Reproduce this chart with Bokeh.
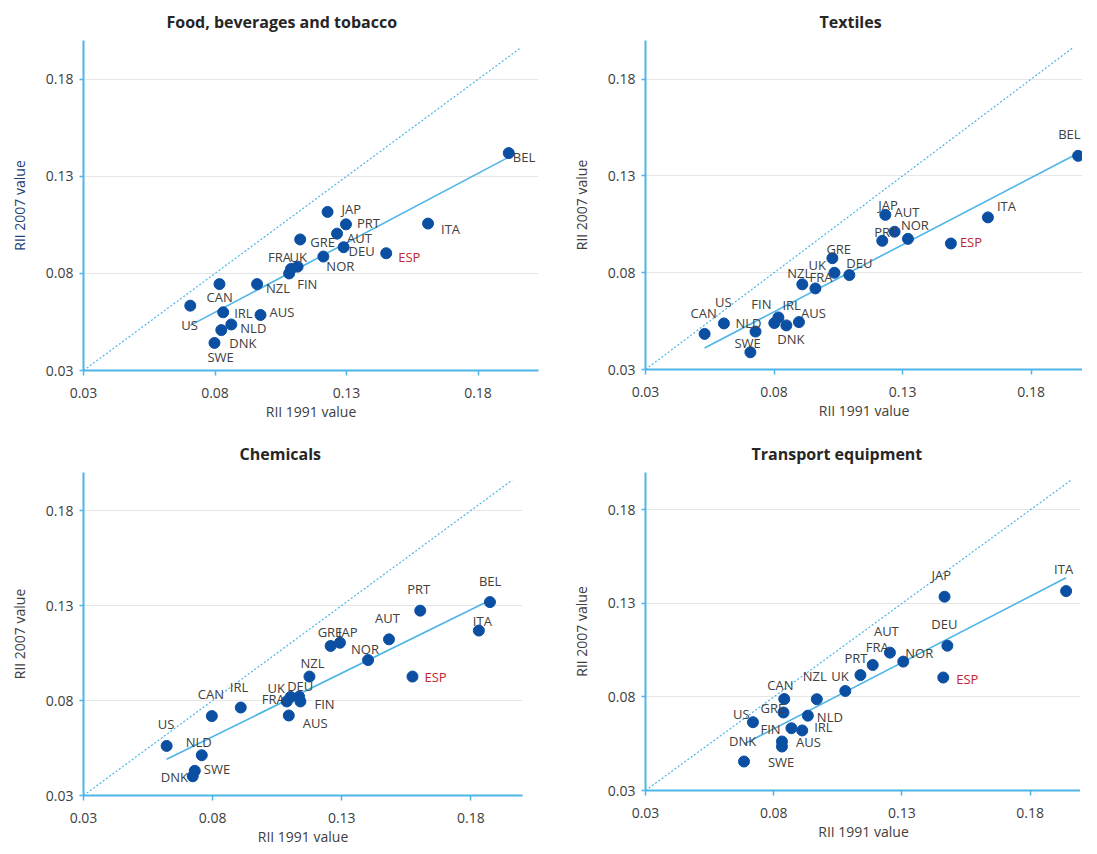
import numpy as np
from bokeh.plotting import figure
from bokeh.layouts import gridplot
from bokeh.models import FixedTicker, PrintfTickFormatter, ColumnDataSource
from bokeh.core.properties import value
from bokeh.embed import file_html
from bokeh.resources import INLINE

# ---------------- data ----------------
countries = ["AUS", "AUT", "BEL", "CAN", "DEU", "DNK", "ESP", "FIN", "FRA", "GRE",
             "IRL", "ITA", "JAP", "NLD", "NOR", "NZL", "PRT", "SWE", "UK", "US"]

food_x = [0.0973, 0.1264, 0.1917, 0.0817, 0.1289, 0.0824, 0.1451, 0.1082, 0.1089, 0.1124,
          0.0831, 0.1610, 0.1228, 0.0862, 0.1212, 0.0960, 0.1298, 0.0798, 0.1114, 0.0706]
food_y = [0.0586, 0.1005, 0.1420, 0.0745, 0.0935, 0.0508, 0.0904, 0.0800, 0.0823, 0.0975,
          0.0600, 0.1057, 0.1117, 0.0537, 0.0887, 0.0745, 0.1053, 0.0442, 0.0835, 0.0634]

text_x = [0.0897, 0.1269, 0.1983, 0.0530, 0.1093, 0.0848, 0.1488, 0.0801, 0.0961, 0.1027,
          0.0817, 0.1632, 0.1233, 0.0728, 0.1321, 0.0910, 0.1221, 0.0708, 0.1035, 0.0605]
text_y = [0.0545, 0.1012, 0.1404, 0.0484, 0.0788, 0.0528, 0.0951, 0.0540, 0.0719, 0.0875,
          0.0569, 0.1086, 0.1099, 0.0496, 0.0975, 0.0740, 0.0965, 0.0389, 0.0800, 0.0538]

chem_x = [0.1095, 0.1483, 0.1874, 0.0797, 0.1135, 0.0723, 0.1574, 0.1140, 0.1087, 0.1257,
          0.0909, 0.1831, 0.1293, 0.0758, 0.1402, 0.1175, 0.1604, 0.0731, 0.1102, 0.0622]
chem_y = [0.0721, 0.1122, 0.1318, 0.0718, 0.0820, 0.0401, 0.0926, 0.0795, 0.0795, 0.1087,
          0.0763, 0.1168, 0.1104, 0.0512, 0.1013, 0.0926, 0.1273, 0.0430, 0.0819, 0.0561]

nan = float("nan")
trans_x = [0.0832, 0.1253, nan, 0.0841, 0.1477, 0.0684, 0.1461, 0.0869, 0.1186, 0.0838,
           0.0911, 0.1940, 0.1466, 0.0933, 0.1305, 0.0968, 0.1138, 0.0832, 0.1079, 0.0719]
trans_y = [0.0562, 0.1037, nan, 0.0789, 0.1074, 0.0455, 0.0904, 0.0633, 0.0971, 0.0717,
           0.0621, 0.1366, 0.1336, 0.0700, 0.0989, 0.0788, 0.0917, 0.0535, 0.0832, 0.0665]

titles = ["Food, beverages and tobacco", "Textiles", "Chemicals", "Transport equipment"]
x_label = "RII 1991 value"
y_label = "RII 2007 value"
tick_values = [0.03, 0.08, 0.13, 0.18]
highlight = "ESP"

# ---------------- label placement (screen px, dy positive = down) ----------------
food_off = {"JAP": (14, -3), "PRT": (11, -1), "ITA": (13, 5), "AUT": (10, 4), "GRE": (10, 3),
            "DEU": (5, 4), "ESP": (12, 4), "NOR": (3, 9), "FRA": (-23, -12), "UK": (-8, -10),
            "FIN": (8, 11), "NZL": (9, 4), "CAN": (-13, 13), "US": (-9, 19), "IRL": (11, 1),
            "AUS": (9, -3), "NLD": (9, 4), "DNK": (8, 13), "SWE": (-7, 14), "BEL": (4, 4)}
text_off = {"BEL": (-20, -22), "JAP": (-7, -10), "AUT": (0, -20), "PRT": (-8, -9), "NOR": (-7, -14),
            "ITA": (9, -11), "ESP": (9, -2), "GRE": (-6, -9), "UK": (-26, -8), "DEU": (-3, -12),
            "NZL": (-15, -11), "FRA": (-6, -11), "CAN": (-14, -21), "US": (-9, -21), "NLD": (-20, -9),
            "SWE": (-16, -9), "FIN": (-23, -19), "IRL": (4, -12), "DNK": (-9, 14), "AUS": (2, -9)}
chem_off = {"BEL": (-11, -21), "PRT": (-13, -22), "ITA": (-6, -10), "AUT": (-14, -21), "GRE": (-13, -14),
            "JAP": (-2, -11), "NOR": (-17, -11), "NZL": (-9, -14), "ESP": (12, 0), "UK": (-23, -9),
            "DEU": (-12, -11), "FRA": (-25, -2), "FIN": (14, 3), "AUS": (14, 7), "IRL": (-11, -21),
            "CAN": (-14, -22), "US": (-9, -22), "NLD": (-16, -13), "SWE": (9, -2), "DNK": (-32, 1)}
trans_off = {"ITA": (-12, -22), "JAP": (-13, -22), "DEU": (-16, -22), "AUT": (-16, -22), "FRA": (-7, -18),
             "NOR": (2, -9), "PRT": (-16, -17), "ESP": (13, 1), "UK": (-14, -15), "NZL": (-14, -23),
             "CAN": (-17, -14), "GRE": (-23, -4), "US": (-20, -8), "NLD": (9, 1), "FIN": (-31, 1),
             "IRL": (12, -3), "AUS": (14, 1), "SWE": (-14, 15), "DNK": (-15, -21), "BEL": (0, 0)}

# ---------------- styling ----------------
FONT = "Open Sans"
BLUE_LINE = "#4DB5E8"
POINT = "#0B4FA3"
TEXT = "#404040"
RED = "#C0282D"
DIAG_END = 0.196

# per-panel geometry:
# (min_border_left, frame_w, min_border_right, min_border_top, frame_h, min_border_bottom,
#  title_offset, x_label_standoff, x_axis_label_standoff, x_max)
geom = [
    (77, 455, 8, 37, 330, 55, 83, 12, 1, 0.2030),
    (105, 437, 0, 37, 329, 56, 174, 12, 1, 0.20),
    (83, 439, 18, 42, 323, 54, 156, 12, 1, 0.20),
    (101, 436, 3, 47, 318, 54, 106, 12, 1, 0.20),
]


def make_panel(i, xs, ys, offs, ylab_color):
    bl, fw, br, bt, fh, bb, toff, xls, xals, xmax = geom[i]
    p = figure(frame_width=fw, frame_height=fh, min_border_left=bl, min_border_right=br,
               min_border_top=bt, min_border_bottom=bb,
               x_range=(0.03, xmax), y_range=(0.03, 0.20),
               output_backend="svg", toolbar_location=None, title=titles[i])
    p.title.text_font = FONT
    p.title.text_font_size = "16px"
    p.title.text_font_style = "bold"
    p.title.text_color = "#262626"
    p.title.align = "left"
    p.title.offset = toff
    p.title.standoff = 16
    p.outline_line_color = None
    p.background_fill_color = "white"
    p.border_fill_color = "white"
    p.xgrid.grid_line_color = None
    p.ygrid.grid_line_color = "#E6E6E6"
    p.ygrid.grid_line_width = 1

    for ax in (p.xaxis[0], p.yaxis[0]):
        ax.ticker = FixedTicker(ticks=tick_values)
        ax.formatter = PrintfTickFormatter(format="%.2f")
        ax.axis_line_color = BLUE_LINE
        ax.axis_line_width = 2
        ax.major_tick_line_color = BLUE_LINE
        ax.major_tick_line_width = 1.5
        ax.minor_tick_line_color = None
        ax.major_tick_in = 0
        ax.major_label_text_font = FONT
        ax.major_label_text_font_size = "14px"
        ax.major_label_text_color = TEXT
        ax.axis_label_text_font = FONT
        ax.axis_label_text_font_size = "14px"
        ax.axis_label_text_font_style = "normal"
        ax.axis_label_text_color = TEXT
    p.xaxis.major_tick_out = 5
    p.yaxis.major_tick_out = 4
    p.xaxis.major_label_standoff = xls
    p.yaxis.major_label_standoff = 6
    p.xaxis.axis_label = x_label
    p.yaxis.axis_label = y_label
    p.xaxis.axis_label_standoff = xals
    p.yaxis.axis_label_standoff = 14
    p.yaxis.axis_label_text_color = ylab_color

    # diagonal 45-degree reference line
    p.line([0.03, DIAG_END], [0.03, DIAG_END], line_color=BLUE_LINE, line_width=1.2, line_dash="2 2")

    xa = np.array(xs, dtype=float)
    ya = np.array(ys, dtype=float)
    ok = ~np.isnan(xa) & ~np.isnan(ya)
    slope, icpt = np.polyfit(xa[ok], ya[ok], 1)
    x0, x1 = xa[ok].min(), xa[ok].max()
    p.line([x0, x1], [slope * x0 + icpt, slope * x1 + icpt], line_color=BLUE_LINE, line_width=1.6)

    names = [c for c, k in zip(countries, ok) if k]
    src = ColumnDataSource(dict(
        x=list(xa[ok]), y=list(ya[ok]), name=names,
        dx=[offs[n][0] for n in names], dy=[offs[n][1] for n in names],
        color=[RED if n == highlight else TEXT for n in names],
    ))
    p.scatter("x", "y", source=src, size=11, fill_color=POINT, line_color=POINT)
    p.text("x", "y", text="name", source=src, x_offset="dx", y_offset="dy",
           text_font=value(FONT), text_font_size="13px", text_color="color",
           text_align="left", text_baseline="middle")
    return p


p1 = make_panel(0, food_x, food_y, food_off, "#1F3F73")
p2 = make_panel(1, text_x, text_y, text_off, TEXT)
p3 = make_panel(2, chem_x, chem_y, chem_off, TEXT)
p4 = make_panel(3, trans_x, trans_y, trans_off, TEXT)

grid = gridplot([[p1, p2], [p3, p4]], toolbar_location=None)

open("out.html", "w").write(file_html(grid, INLINE))
